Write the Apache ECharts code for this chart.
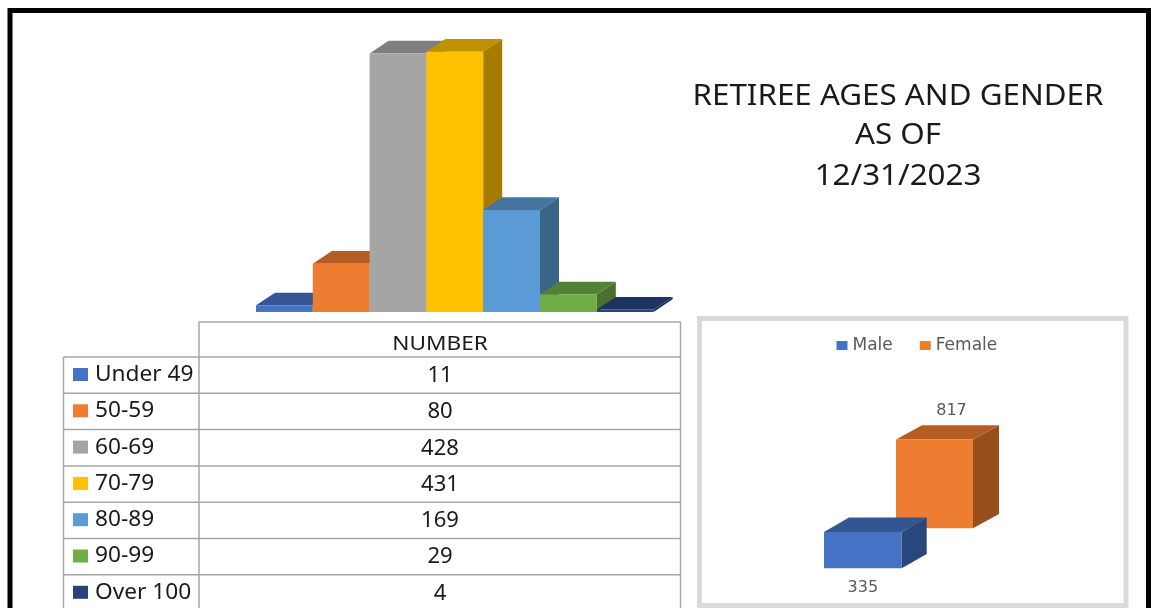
<!DOCTYPE html>
<html>
<head>
<meta charset="utf-8">
<title>Retiree ages and gender</title>
<script src="https://cdn.jsdelivr.net/npm/echarts@6/dist/echarts.min.js"></script>
<style>
  html, body { margin: 0; padding: 0; background: #fff; }
  #main { width: 1151px; height: 608px; }
</style>
</head>
<body>
<div id="main"></div>
<script>
// data
const titleLines = ['RETIREE AGES AND GENDER', 'AS OF', '12/31/2023'];
const tableHeader = 'NUMBER';
const ageGroups = ['Under 49', '50-59', '60-69', '70-79', '80-89', '90-99', 'Over 100'];
const ageCounts = [11, 80, 428, 431, 169, 29, 4];
const genderNames = ['Male', 'Female'];
const maleCount = [335];
const femaleCount = [817];

// front, top, side
const agePalette = [
  ['#4472C4', '#355594', '#2F5597'],
  ['#ED7D31', '#B45C21', '#9C4F1C'],
  ['#A5A5A5', '#7F7F7F', '#7B7B7B'],
  ['#FFC000', '#BF9000', '#A67C00'],
  ['#5B9BD5', '#44749F', '#3A6488'],
  ['#70AD47', '#548235', '#4A6F2E'],
  ['#264478', '#1C3360', '#1A2F57']
];
const malePalette = ['#4472C4', '#335593', '#28477D'];
const femalePalette = ['#ED7D31', '#B45C21', '#974F1C'];

const FONT = '"Noto Sans", sans-serif';
const LINE = '#A6A6A6';

const polygon = (points, fill) => ({
  type: 'polygon',
  shape: { points: points },
  style: { fill: fill }
});

// front face comes from the axes, top and side are shifted back by the depth
function box3d (api, colours, dx, dy) {
  const top = api.coord([api.value(0), api.value(1)]);
  const base = api.coord([api.value(0), 0]);
  const w = api.size([1, 0])[0];
  const l = top[0] - w / 2;
  const r = top[0] + w / 2;
  return [
    polygon([[r, top[1]], [r + dx, top[1] - dy], [r + dx, base[1] - dy], [r, base[1]]], colours[2]),
    polygon([[l, top[1]], [l + dx, top[1] - dy], [r + dx, top[1] - dy], [r, top[1]]], colours[1]),
    polygon([[l, top[1]], [r, top[1]], [r, base[1]], [l, base[1]]], colours[0])
  ];
}

function genderLabel (x, y, value) {
  return {
    type: 'text',
    style: {
      text: String(value), x: x, y: y, align: 'center', verticalAlign: 'middle',
      font: '16px "DejaVu Sans", sans-serif', fill: '#595959'
    }
  };
}

// table lines and text
const rowTop = 357;
const rowH = 36.3;
const tableLeft = 63.5;
const colX = 199;
const tableRight = 680.5;
const valueX = 440;

const hline = (x1, x2, y) => ({
  type: 'line', silent: true,
  shape: { x1: x1, y1: y, x2: x2, y2: y },
  style: { stroke: LINE, lineWidth: 1.5 }
});
const vline = (x, y1, y2) => ({
  type: 'line', silent: true,
  shape: { x1: x, y1: y1, x2: x, y2: y2 },
  style: { stroke: LINE, lineWidth: 1.5 }
});
// the reference text is a stretched screenshot, so scaleX widens it a little
const label = (text, x, y, size, align, scaleX) => ({
  type: 'text', silent: true, x: x, y: y, scaleX: scaleX || 1,
  style: {
    text: text, font: size + 'px ' + FONT, fill: '#1a1a1a',
    align: align || 'center', verticalAlign: 'middle'
  }
});

const graphics = [
  // outer black frame runs off the bottom of the page
  {
    type: 'rect', silent: true,
    shape: { x: 10, y: 10.5, width: 1138.5, height: 620 },
    style: { fill: 'transparent', stroke: '#000', lineWidth: 5 }
  },
  // frame of the gender chart
  {
    type: 'rect', silent: true,
    shape: { x: 699.5, y: 318.5, width: 426.5, height: 287 },
    style: { fill: 'transparent', stroke: '#D9D9D9', lineWidth: 5 }
  },
  hline(colX, tableRight, 322),
  vline(colX, 322, 608),
  vline(tableRight, 322, 608),
  vline(tableLeft, rowTop, 608),
  label(tableHeader, valueX, 344, 20, 'center', 1.13)
];
titleLines.forEach((t, i) => {
  graphics.push(label(t, 898, [97, 136, 177][i], 29, 'center', 1.08));
});
ageGroups.forEach((name, i) => {
  const y = rowTop + rowH * i;
  graphics.push(hline(tableLeft, tableRight, y));
  graphics.push({
    type: 'rect', silent: true,
    shape: { x: 73, y: y + 11, width: 15, height: 13 },
    style: { fill: agePalette[i][0] }
  });
  graphics.push(label(name, 95, y + 18, 21, 'left', 1.08));
  graphics.push(label(String(ageCounts[i]), valueX, y + 19, 21, 'center', 1.05));
});

const option = {
  backgroundColor: '#fff',
  animation: false,
  legend: {
    data: genderNames,
    left: 836.5,
    top: 337,
    padding: 0,
    icon: 'rect',
    itemWidth: 11,
    itemHeight: 9,
    itemGap: 27,
    textStyle: { color: '#595959', fontSize: 17, fontFamily: '"DejaVu Sans", sans-serif' }
  },
  grid: [
    { left: 256, top: 10, width: 397.6, height: 302 },
    { left: 824, top: 459.6, width: 77.7, height: 108.7 },
    { left: 896, top: 419.6, width: 77, height: 108.7 }
  ],
  xAxis: [
    { gridIndex: 0, type: 'category', data: ageGroups, show: false },
    { gridIndex: 1, type: 'category', data: [genderNames[0]], show: false },
    { gridIndex: 2, type: 'category', data: [genderNames[1]], show: false }
  ],
  yAxis: [
    { gridIndex: 0, type: 'value', min: 0, max: 500, show: false },
    { gridIndex: 1, type: 'value', min: 0, max: 1000, show: false },
    { gridIndex: 2, type: 'value', min: 0, max: 1000, show: false }
  ],
  series: [
    {
      name: 'NUMBER',
      type: 'custom',
      xAxisIndex: 0,
      yAxisIndex: 0,
      data: ageCounts.map((v, i) => [i, v]),
      renderItem: (params, api) => ({
        type: 'group',
        children: box3d(api, agePalette[params.dataIndex], 19, 12.7)
      })
    },
    // female sits behind male, so it is drawn first
    {
      name: genderNames[1],
      type: 'custom',
      xAxisIndex: 2,
      yAxisIndex: 2,
      itemStyle: { color: femalePalette[0] },
      data: femaleCount.map((v, i) => [i, v]),
      renderItem: (params, api) => {
        const top = api.coord([api.value(0), api.value(1)]);
        return {
          type: 'group',
          children: box3d(api, femalePalette, 26, 14.3).concat(
            genderLabel(top[0] + 17, top[1] - 29, api.value(1)))
        };
      }
    },
    {
      name: genderNames[0],
      type: 'custom',
      xAxisIndex: 1,
      yAxisIndex: 1,
      itemStyle: { color: malePalette[0] },
      data: maleCount.map((v, i) => [i, v]),
      renderItem: (params, api) => {
        const base = api.coord([api.value(0), 0]);
        return {
          type: 'group',
          children: box3d(api, malePalette, 25, 14.3).concat(
            genderLabel(base[0], base[1] + 20, api.value(1)))
        };
      }
    }
  ],
  graphic: { elements: graphics }
};

const myChart = echarts.init(document.getElementById('main'), null, { renderer: 'canvas' });
myChart.setOption(option);
</script>
</body>
</html>
